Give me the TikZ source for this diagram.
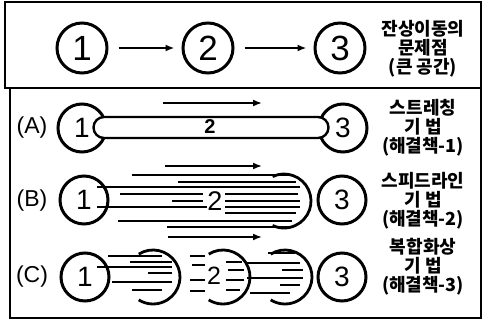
\documentclass[tikz,border=0pt]{standalone}
\usepackage{fontspec}
\setmainfont{Liberation Sans}
\newfontfamily\krfont{Noto Sans CJK KR}
\usetikzlibrary{arrows.meta}

\tikzset{
  frame/.style={line width=2.8pt},
  spot/.style={circle, draw, line width=3pt, minimum size=48pt, inner sep=0pt,
    font=\fontsize{28}{28}\selectfont},
  bigspot/.style={spot, minimum size=50pt, font=\fontsize{35}{35}\selectfont},
  streak/.style={line width=1.7pt},
  ghost/.style={line width=2.8pt},
  caption/.style={align=center, font=\krfont\bfseries\fontsize{18}{19}\selectfont},
  rowlabel/.style={font=\fontsize{23}{23}\selectfont},
  motion/.style={->, line width=1.7pt}
}

\begin{document}
\begin{tikzpicture}[x=1pt, y=-1pt, >={Latex[length=9pt,width=7pt]}]
  \useasboundingbox (0,0) rectangle (484,324);

  % frames
  \draw[frame] (5,2) rectangle (481,88);
  \draw[frame] (10,88) rectangle (481,318);

  % problem: the image jumps
  \node[bigspot] (n1) at (82,48) {1};
  \node[bigspot] (n2) at (208,48) {2};
  \node[bigspot] (n3) at (340,48) {3};
  \draw[motion, line width=2pt, shorten <=10pt, shorten >=7pt] (n1) -- (n2);
  \draw[motion, line width=2pt, shorten <=10pt, shorten >=7pt] (n2) -- (n3);
  \node[caption] (tProb) at (423,49) {잔상이동의\\문제점\\(큰 공간)};

  % (A) stretching
  \node[rowlabel] (lA) at (32,128) {(A)};
  \node[spot] (a1) at (82,128) {1};
  \node[spot] (a3) at (343,128) {3};
  \draw[line width=2.4pt, fill=white] (104,117) -- (318,117) arc[start angle=90, end angle=-90, radius=10.5pt]
    -- (104,138) arc[start angle=270, end angle=90, radius=10.5pt] -- cycle;
  \node[font=\bfseries\fontsize{20}{20}\selectfont] (a2) at (210,127) {2};
  \coordinate (aL) at (163,103);
  \coordinate (aR) at (262,103);
  \draw[motion] (aL) -- (aR);
  \node[caption] (tA) at (423,128) {스트레칭\\기 법\\(해결책-1)};

  % (B) speed lines
  \node[rowlabel] (lB) at (32,201) {(B)};
  \node[spot] (b1) at (84,200) {1};
  \node[spot] (b3) at (342,200) {3};
  \foreach \y/\xa/\xb in {175/132/292, 182/178/296, 187/97/300, 194/120/203, 194/225/298,
      201/172/203, 201/225/300, 207/97/208, 207/225/300, 213/225/296, 221/118/292, 227/167/288}
    \draw[streak] (\xa,\y) -- (\xb,\y);
  \draw[ghost] (284,201) ++(115:27pt) arc[start angle=115, end angle=-115, radius=27pt];
  \node[font=\fontsize{27}{27}\selectfont, fill=white, inner sep=0.5pt] (b2) at (215,201) {2};
  \coordinate (bL) at (165,166);
  \coordinate (bR) at (262,166);
  \draw[motion] (bL) -- (bR);
  \node[caption] (tB) at (423,201) {스피드라인\\기 법\\(해결책-2)};

  % (C) composite images
  \node[rowlabel] (lC) at (32,277) {(C)};
  \node[spot] (c1) at (85,277) {1};
  \node[spot] (c3) at (342,277) {3};
  \foreach \y/\xa/\xb in {256/108/162, 262/130/172, 267/97/172, 273/148/172, 282/112/172, 290/132/162,
      256/190/205, 265/192/205, 280/190/205, 291/190/205, 262/226/242, 270/228/244, 280/226/244, 290/226/240,
      253/268/295, 263/247/300, 270/282/303, 278/247/303, 285/280/300, 293/250/290}
    \draw[streak] (\xa,\y) -- (\xb,\y);
  \foreach \cx in {153,223,285}
    \draw[ghost] (\cx,277) ++(122:27pt) arc[start angle=122, end angle=-122, radius=27pt];
  \node[font=\fontsize{25}{25}\selectfont, fill=white, inner sep=0.5pt] (c2) at (214,276) {2};
  \coordinate (cL) at (168,237);
  \coordinate (cR) at (262,237);
  \draw[motion] (cL) -- (cR);
  \node[caption] (tC) at (423,267) {복합화상\\기 법\\(해결책-3)};
\end{tikzpicture}
\end{document}
